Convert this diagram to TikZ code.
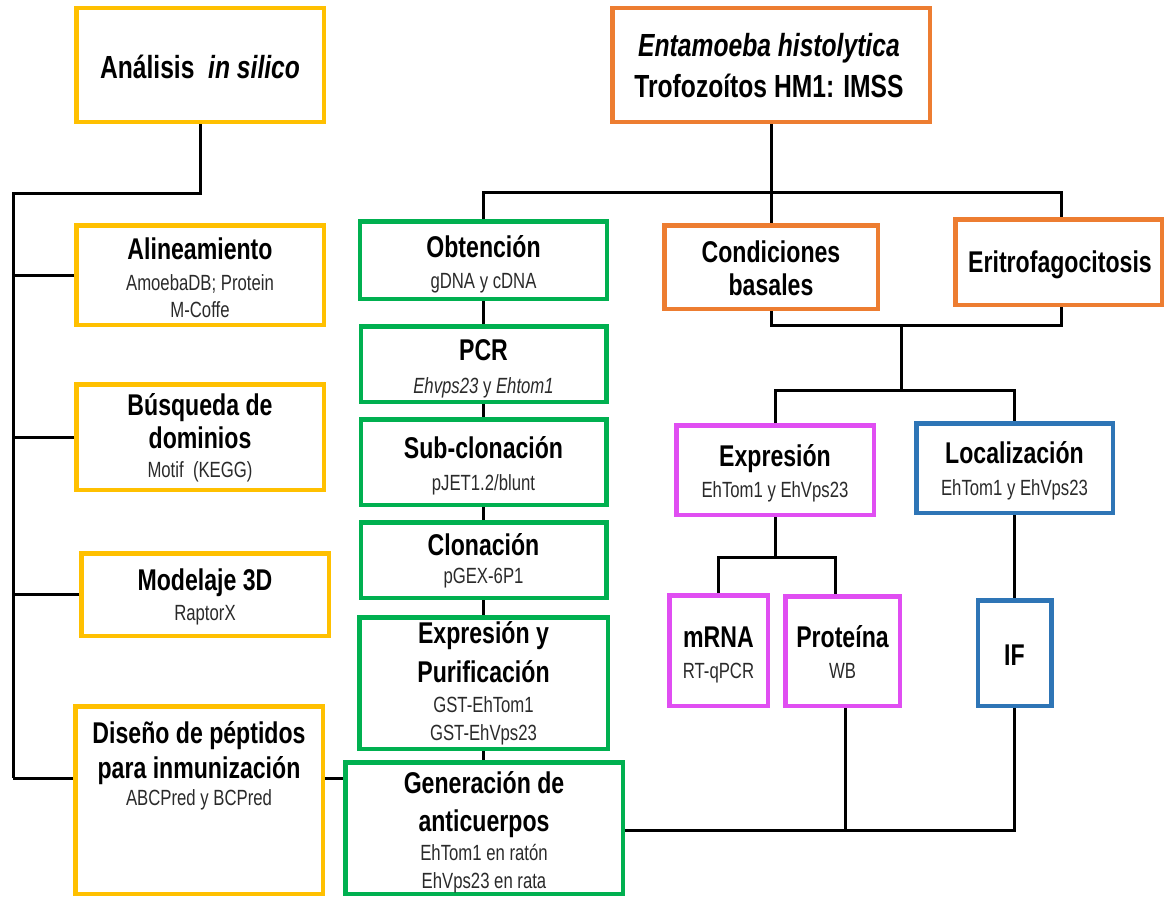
\documentclass[tikz,border=0pt]{standalone}
\usepackage{fontspec}
\setmainfont{Liberation Sans}
\newfontfamily\titfnt[FakeStretch=0.77]{Liberation Sans}
\newfontfamily\subfnt[FakeStretch=0.76]{Liberation Sans}
\definecolor{cyel}{HTML}{FFC000}
\definecolor{cgrn}{HTML}{00B050}
\definecolor{corg}{HTML}{ED7D31}
\definecolor{cmag}{HTML}{E04EF2}
\definecolor{cblu}{HTML}{2E75B6}
\definecolor{csub}{HTML}{2A2A2A}
\tikzset{
  box/.style={draw, line width=4.5pt, inner sep=0pt, rectangle},
  ybox/.style={box, draw=cyel},
  gbox/.style={box, draw=cgrn},
  obox/.style={box, draw=corg},
  mbox/.style={box, draw=cmag},
  bbox/.style={box, draw=cblu},
  tt/.style={anchor=base, inner sep=0pt, font=\titfnt\bfseries\fontsize{30}{30}\selectfont},
  ttbig/.style={anchor=base, inner sep=0pt, font=\titfnt\bfseries\fontsize{32}{32}\selectfont},
  st/.style={anchor=base, inner sep=0pt, text=csub, font=\subfnt\fontsize{22}{22}\selectfont},
  conn/.style={draw=black, line width=3pt}
}
\begin{document}
\begin{tikzpicture}[x=1pt,y=-1pt]
\useasboundingbox (0,0) rectangle (1165,899);
% ---------- boxes ----------
\node[ybox, minimum width=247.5, minimum height=113.5] (ana) at (200,65) {};
\node[ybox, minimum width=247.5, minimum height=99.5] (ali) at (200,275) {};
\node[ybox, minimum width=247.5, minimum height=105.5] (bus) at (200,437) {};
\node[ybox, minimum width=247.5, minimum height=82.5] (mod) at (205,594.5) {};
\node[ybox, minimum width=247.5, minimum height=187.5] (dis) at (199,800) {};

\node[gbox, minimum width=247, minimum height=77.5] (obt) at (483.5,260) {};
\node[gbox, minimum width=245.5, minimum height=75.5] (pcr) at (483.5,364) {};
\node[gbox, minimum width=245.5, minimum height=85.5] (sub) at (483.5,462) {};
\node[gbox, minimum width=245.5, minimum height=75.5] (clo) at (483.5,560) {};
\node[gbox, minimum width=248.5, minimum height=131.5] (exp) at (483.5,683) {};
\node[gbox, minimum width=277.5, minimum height=131.5] (gen) at (484,828) {};

\node[obox, minimum width=317.5, minimum height=113.5] (ent) at (771,65) {};
\node[obox, minimum width=213.5, minimum height=83.5] (con) at (771,267) {};
\node[obox, minimum width=206.5, minimum height=85.5] (eri) at (1058.5,262) {};

\node[mbox, minimum width=197.5, minimum height=89.5] (expr) at (775,470) {};
\node[bbox, minimum width=196.5, minimum height=89.5] (loc) at (1014.5,468) {};
\node[mbox, minimum width=98.5, minimum height=110.5] (mrna) at (718.5,650.5) {};
\node[mbox, minimum width=114.5, minimum height=109.5] (pro) at (842.5,651) {};
\node[bbox, minimum width=73.5, minimum height=105.5] (IF) at (1014.5,653) {};

% ---------- texts ----------
\node[ttbig] (anaT) at (200,78) {Análisis~~\textit{in silico}};

\node[tt] (aliT) at (200,259) {Alineamiento};
\node[st] (aliS1) at (200,290) {AmoebaDB; Protein};
\node[st] (aliS2) at (200,317) {M-Coffe};

\node[tt] (busT1) at (200,415) {Búsqueda de};
\node[tt] (busT2) at (200,448) {dominios};
\node[st] (busS) at (200,477) {Motif\ \ (KEGG)};

\node[tt] (modT) at (205,590) {Modelaje 3D};
\node[st] (modS) at (205,620) {RaptorX};

\node[tt] (disT1) at (199,743) {Diseño de péptidos};
\node[tt] (disT2) at (199,778) {para inmunización};
\node[st] (disS) at (199,805) {ABCPred y BCPred};

\node[tt] (obtT) at (483.5,257) {Obtención};
\node[st] (obtS) at (483.5,288) {gDNA y cDNA};
\node[tt] (pcrT) at (483.5,360) {PCR};
\node[st] (pcrS) at (483.5,393) {\textit{Ehvps23} y \textit{Ehtom1}};
\node[tt] (subT) at (483.5,458) {Sub-clonación};
\node[st] (subS) at (483.5,490) {pJET1.2/blunt};
\node[tt] (cloT) at (483.5,555) {Clonación};
\node[st] (cloS) at (483.5,583) {pGEX-6P1};
\node[tt] (expT1) at (483.5,643) {Expresión y};
\node[tt] (expT2) at (483.5,682) {Purificación};
\node[st] (expS1) at (483.5,712) {GST-EhTom1};
\node[st] (expS2) at (483.5,740) {GST-EhVps23};
\node[tt] (genT1) at (484,793) {Generación de};
\node[tt] (genT2) at (484,831) {anticuerpos};
\node[st] (genS1) at (484,860) {EhTom1 en ratón};
\node[st] (genS2) at (484,888) {EhVps23 en rata};

\node[ttbig] (entT1) at (769,57) {\textit{Entamoeba histolytica}};
\node[ttbig] (entT2) at (769,97) {Trofozoítos HM1: IMSS};
\node[tt] (conT1) at (771,262) {Condiciones};
\node[tt] (conT2) at (771,295) {basales};
\node[tt] (eriT) at (1060,272) {Eritrofagocitosis};

\node[tt] (exprT) at (775,466) {Expresión};
\node[st] (exprS) at (775,497) {EhTom1 y EhVps23};
\node[tt] (locT) at (1014.5,463) {Localización};
\node[st] (locS) at (1014.5,495) {EhTom1 y EhVps23};
\node[tt] (mrnaT) at (718.5,647) {mRNA};
\node[st] (mrnaS) at (718.5,678) {RT-qPCR};
\node[tt] (proT) at (842.5,647) {Proteína};
\node[st] (proS) at (842.5,678) {WB};
\node[tt] (IFT) at (1014.5,665) {IF};

% ---------- connectors ----------
\coordinate (lsTop) at (13,193);
\coordinate (lsBot) at (13,778);
\draw[conn] (ana.south) |- (lsTop) -- (lsBot);
\draw[conn] (ali.west) -- (ali.west -| lsTop);
\draw[conn] (bus.west) -- (bus.west -| lsTop);
\draw[conn] (mod.west) -- (mod.west -| lsTop);
\draw[conn] (lsBot) -- (lsBot -| dis.west);
\draw[conn] (dis.east |- lsBot) -- (gen.west |- lsBot);

\coordinate (topR) at (1061,192);
\draw[conn] (ent.south) -- (con.north);
\draw[conn] (obt.north) |- (topR) -- (topR |- eri.north);
\draw[conn] (obt.south) -- (pcr.north);
\draw[conn] (pcr.south) -- (sub.north);
\draw[conn] (sub.south) -- (clo.north);
\draw[conn] (clo.south) -- (exp.north);
\draw[conn] (exp.south) -- (exp.south |- gen.north);

\coordinate (midR) at (1061,325);
\coordinate (j1) at (901,325);
\coordinate (j2) at (901,390);
\draw[conn] (con.south) |- (midR) -- (midR |- eri.south);
\draw[conn] (j1) -- (j2);
\draw[conn] (expr.north) |- (j2) -| (loc.north);

\coordinate (e1) at (775,557);
\draw[conn] (expr.south) -- (e1);
\draw[conn] (mrna.north) |- (e1) -| ([xshift=-7.5pt]pro.north);
\draw[conn] (loc.south) -- (IF.north);

\coordinate (b1) at (1014.5,830);
\draw[conn] (gen.east |- b1) -- (b1) -- (IF.south);
\draw[conn] ([xshift=3pt]pro.south) -- ([xshift=3pt]pro.south |- b1);
\end{tikzpicture}
\end{document}
